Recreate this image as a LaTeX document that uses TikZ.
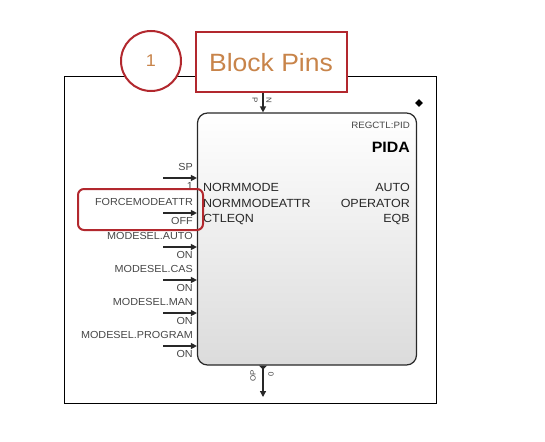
\documentclass[tikz,border=0pt]{standalone}
\usepackage{fontspec}
\setmainfont{Liberation Sans}[FakeStretch=1.06]
\usetikzlibrary{arrows.meta, shapes.geometric}

\definecolor{calloutred}{RGB}{178,40,46}
\definecolor{callouttan}{RGB}{200,132,74}
\definecolor{pingray}{RGB}{70,70,70}
\definecolor{blockgray}{RGB}{40,40,40}

\tikzset{
  pinarrow/.style={line width=1.3pt, draw=blockgray, -{Triangle[width=6pt,length=6pt]}},
  pinlabel/.style={inner sep=0pt, text=pingray, font=\fontsize{10.2}{11}\selectfont},
  blocklabel/.style={inner sep=0pt, text=blockgray, font=\fontsize{11.8}{13}\selectfont},
  tinylabel/.style={inner sep=0pt, text=pingray, font=\fontsize{7.5}{8}\selectfont},
}

\begin{document}
\begin{tikzpicture}[x=1pt, y=-1pt]
    \useasboundingbox (0,0) rectangle (545,441);
    \draw[line width=0.8pt] (64,76) rectangle (436,403);
    % callout
    \node[circle, draw=calloutred, line width=2pt, fill=white, minimum size=60pt,
      text=callouttan, font=\fontsize{17}{18}\selectfont] (callout) at (151,61) {1};
    \node[draw=calloutred, line width=2pt, fill=white, minimum width=151pt, minimum height=60pt,
      text=callouttan, font=\fontsize{25}{28}\selectfont] (title) at (271,62.5) {Block Pins};
    % block
    \node[draw=blockgray, line width=1.2pt, rounded corners=10pt, top color=white, bottom color=black!14,
      minimum width=219pt, minimum height=252pt] (pida) at (307,239) {};
    \node[diamond, fill=black, inner sep=0pt, minimum size=8pt] (mark) at (419,103) {};
    \node[anchor=east, inner sep=0pt, text=pingray, font=\fontsize{9.2}{10}\selectfont] (regctl) at (410,125) {REGCTL:PID};
    \node[anchor=east, inner sep=0pt, text=black, font=\fontsize{15}{16}\selectfont\bfseries] (pidaname) at (410,147) {PIDA};
    \foreach \lft/\rgt/\y in {NORMMODE/AUTO/187, NORMMODEATTR/OPERATOR/203, CTLEQN/EQB/219} {
      \node[blocklabel, anchor=west] at (203,\y) {\lft};
      \node[blocklabel, anchor=east] at (410,\y) {\rgt};
    }
    % top and bottom pins
    \coordinate (pintop) at (263,93);
    \draw[pinarrow] (pintop) -- (pintop |- pida.north);
    \node[tinylabel, rotate=-90] at (255,100) {P};
    \node[tinylabel, rotate=-90] at (269,100) {N};
    \coordinate (pinbot) at (263,397);
    \draw[pinarrow, {Triangle[width=8pt,length=4pt,reversed]}-{Triangle[width=6pt,length=6pt]}]
      (pinbot |- pida.south) -- (pinbot);
    \node[tinylabel, rotate=90] at (253,376) {OP};
    \node[tinylabel, rotate=90] at (271,374) {0};
    % left pins
    \foreach \name/\val/\y in {SP/1/178, FORCEMODEATTR/OFF/213, MODESEL.AUTO/ON/247,
        MODESEL.CAS/ON/280, MODESEL.MAN/ON/313, MODESEL.PROGRAM/ON/346} {
      \coordinate (in-\y) at (163,\y);
      \draw[pinarrow] (in-\y) -- (in-\y -| pida.west);
      \node[pinlabel, anchor=south east] at (193,\y-7) {\name};
      \node[pinlabel, anchor=north east] at (193,\y+4) {\val};
    }
    % highlight
    \draw[calloutred, line width=2pt, rounded corners=6pt] (78,189) rectangle (203,230);
\end{tikzpicture}
\end{document}
